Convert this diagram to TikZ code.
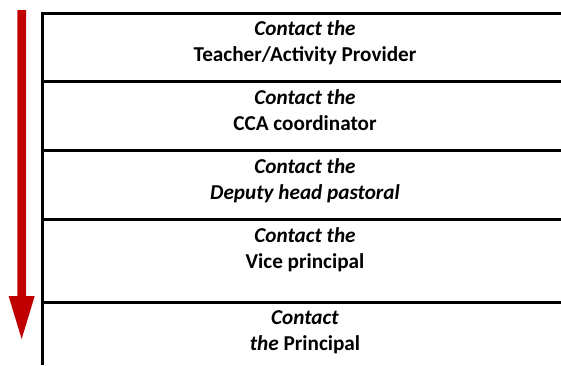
\documentclass[tikz,border=0pt]{standalone}
\usepackage{fontspec}
\setmainfont{Carlito}
\definecolor{arrowred}{HTML}{C00000}
\begin{document}
\begin{tikzpicture}[x=1pt,y=-1pt,
  rule/.style={line width=2.6pt,black},
  label/.style={font=\fontsize{21.2}{26}\selectfont\bfseries,align=center,anchor=north,inner sep=0pt}]
\useasboundingbox (0,0) rectangle (561,365);
\fill[white] (0,0) rectangle (561,365);
% red arrow
\fill[arrowred] (17.3,10) -- (26,10) -- (26,296) -- (34.7,296) -- (21.65,339) -- (8.6,296) -- (17.3,296) -- cycle;
% frame
\coordinate (vtop) at (42.5,12.4);
\coordinate (vbot) at (42.5,365);
\draw[line width=2.8pt] (vtop) -- (vbot);
\foreach \y/\n in {13.7/a,81.3/b,150.7/c,219.7/d,302.3/e}{
  \coordinate (l\n) at (42.5,\y);
  \coordinate (r\n) at (561,\y);
  \draw[rule] (l\n) -- (r\n);
}
\node[label] (t1) at (305,20) {\textit{Contact the}\\Teacher/Activity Provider};
\node[label] (t2) at (305,89.3) {\textit{Contact the}\\CCA coordinator};
\node[label] (t3) at (305,158.3) {\textit{Contact the}\\\textit{Deputy head pastoral}};
\node[label] (t4) at (305,227.3) {\textit{Contact the}\\Vice principal};
\node[label] (t5) at (305,310.6) {\textit{Contact}\\\textit{the} Principal};
\end{tikzpicture}
\end{document}
